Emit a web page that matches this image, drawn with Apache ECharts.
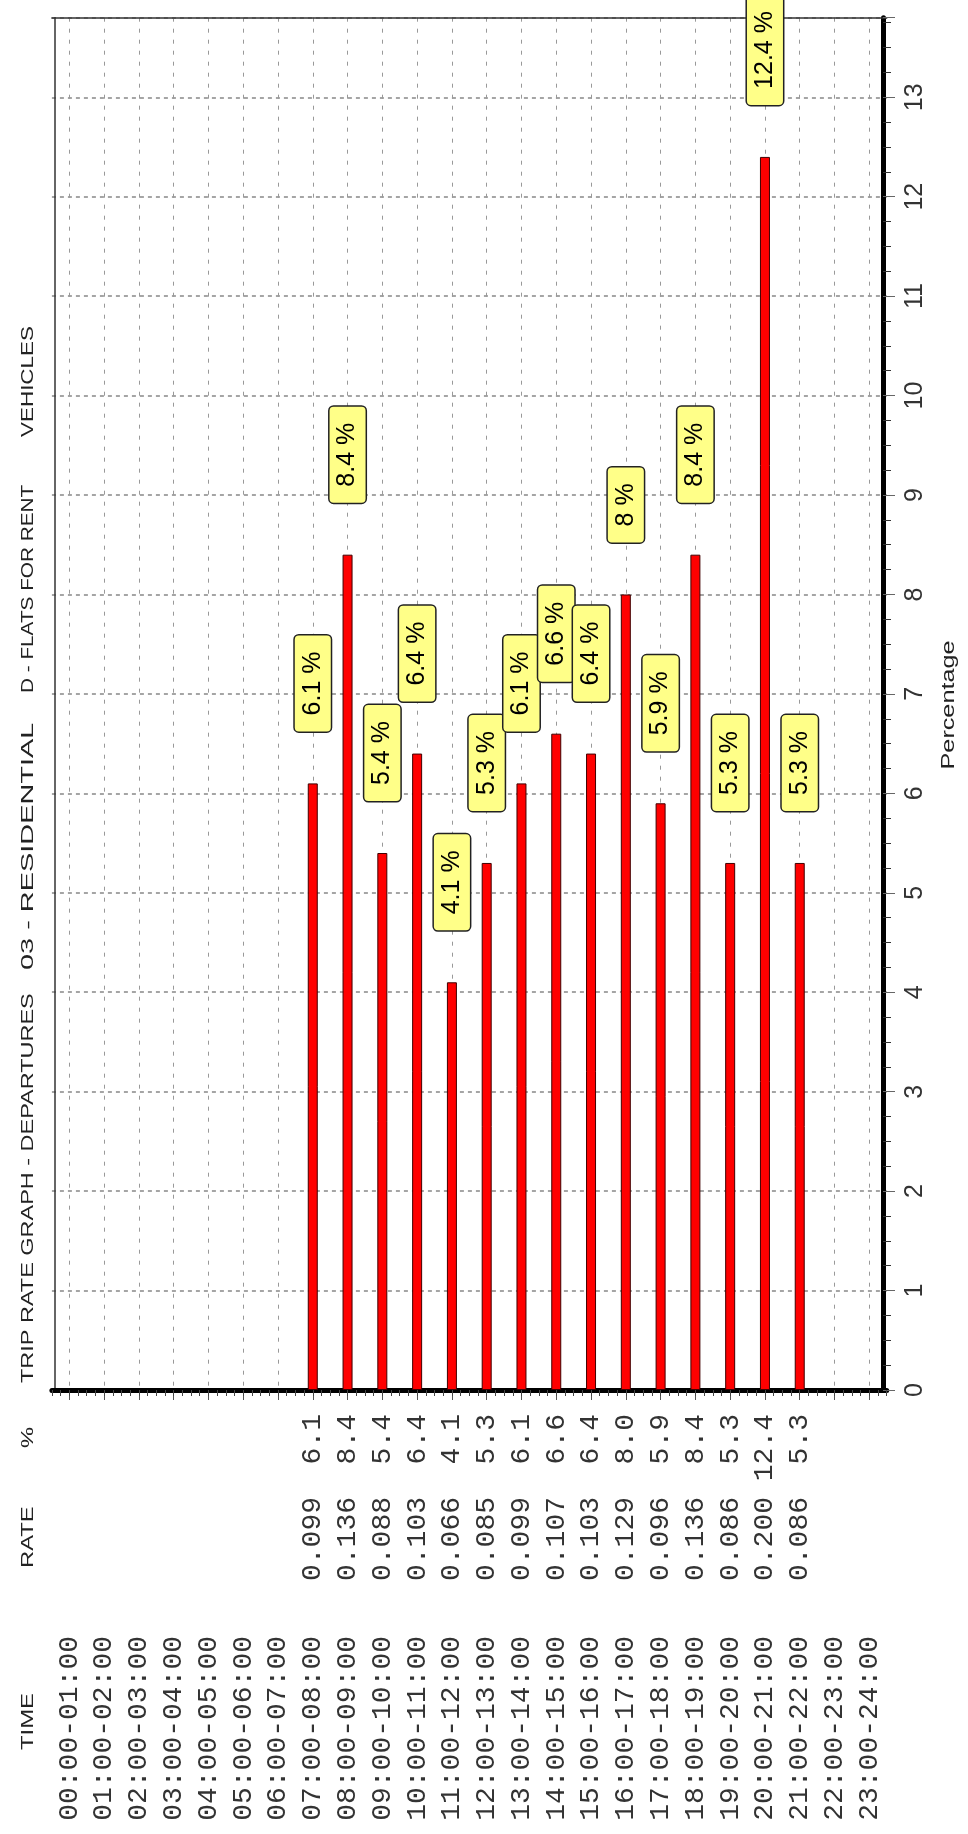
<!DOCTYPE html>
<html>
<head>
<meta charset="utf-8">
<title>Trip rate graph - departures</title>
<script src="https://cdn.jsdelivr.net/npm/echarts@6/dist/echarts.min.js"></script>
<style>
  html, body { margin: 0; padding: 0; background: #fff; }
  #chart { width: 968px; height: 1834px; }
</style>
</head>
<body>
<div id="chart"></div>
<script>
const timeSlots = [
  '00:00-01:00', '01:00-02:00', '02:00-03:00', '03:00-04:00', '04:00-05:00', '05:00-06:00',
  '06:00-07:00', '07:00-08:00', '08:00-09:00', '09:00-10:00', '10:00-11:00', '11:00-12:00',
  '12:00-13:00', '13:00-14:00', '14:00-15:00', '15:00-16:00', '16:00-17:00', '17:00-18:00',
  '18:00-19:00', '19:00-20:00', '20:00-21:00', '21:00-22:00', '22:00-23:00', '23:00-24:00'
];
const rates = [
  null, null, null, null, null, null, null,
  0.099, 0.136, 0.088, 0.103, 0.066, 0.085, 0.099, 0.107,
  0.103, 0.129, 0.096, 0.136, 0.086, 0.200, 0.086,
  null, null
];
const percentages = [
  null, null, null, null, null, null, null,
  6.1, 8.4, 5.4, 6.4, 4.1, 5.3, 6.1, 6.6,
  6.4, 8.0, 5.9, 8.4, 5.3, 12.4, 5.3,
  null, null
];
const titleParts = ['TRIP RATE GRAPH - DEPARTURES', '03 - RESIDENTIAL', 'D - FLATS FOR RENT', 'VEHICLES'];
const columnHeads = ['TIME', 'RATE', '%'];
const valueAxisName = 'Percentage';

const mono = '"Liberation Mono", "DejaVu Sans Mono", monospace';
const sans = '"Liberation Sans", Arial, sans-serif';

const chart = echarts.init(document.getElementById('chart'));

// 4 sub-divisions per hour for the small ticks under the time axis
const quarterSlots = timeSlots.flatMap(t => [t + 'a', t + 'b', t + 'c', t + 'd']);

const columnLabel = (margin, fmt) => ({
  interval: 0,
  rotate: 90,
  margin: margin,
  fontFamily: mono,
  fontSize: 28,
  color: '#333',
  formatter: fmt
});

// rotated header texts: start position along the page and stretch along the text
const titleStarts = [1383, 970, 693, 437];
const titleStretch = [1.38, 1.7, 1.22, 1.32];
const headStarts = [1750, 1568, 1448];
const headText = (text, y, stretch) => ({
  type: 'text',
  x: 28.5,
  y: y,
  rotation: Math.PI / 2,
  scaleX: stretch,
  style: { text: text, fontFamily: sans, fontSize: 17, fill: '#222', align: 'left', verticalAlign: 'middle' }
});

chart.setOption({
  animation: false,
  backgroundColor: '#fff',
  grid: { left: 51.9, right: 81.3, top: 17.7, bottom: 444, containLabel: false, outerBoundsMode: 'none' },
  xAxis: [
    {
      type: 'category', data: timeSlots, position: 'bottom',
      axisLine: { show: true, onZero: false, lineStyle: { color: '#000', width: 5 } },
      axisTick: { show: true, alignWithLabel: true, interval: 0, length: 10, lineStyle: { color: '#555' } },
      axisLabel: columnLabel(24, (v, i) => percentages[i] == null ? '' : percentages[i].toFixed(1)),
      splitLine: { show: true, alignWithLabel: true, interval: 0, lineStyle: { color: '#999', type: [4, 7], width: 1 } }
    },
    {
      type: 'category', data: timeSlots, position: 'bottom',
      axisLine: { show: false, onZero: false }, axisTick: { show: false }, splitLine: { show: false },
      axisLabel: columnLabel(107, (v, i) => rates[i] == null ? '' : rates[i].toFixed(3))
    },
    {
      type: 'category', data: timeSlots, position: 'bottom',
      axisLine: { show: false, onZero: false }, axisTick: { show: false }, splitLine: { show: false },
      axisLabel: columnLabel(246, v => v)
    },
    {
      type: 'category', data: quarterSlots, position: 'bottom',
      axisLine: { show: false, onZero: false }, splitLine: { show: false },
      axisTick: { show: true, interval: 0, length: 6, lineStyle: { color: '#444' } },
      axisLabel: { show: false }
    },
    {
      type: 'category', data: timeSlots, position: 'top',
      axisLine: { show: true, onZero: false, lineStyle: { color: '#333', width: 1.5 } },
      axisTick: { show: false }, axisLabel: { show: false }, splitLine: { show: false }
    }
  ],
  yAxis: [
    {
      type: 'value', position: 'right', offset: -3.7,
      min: 0, max: 13.8, interval: 1,
      axisLine: { show: true, onZero: false, lineStyle: { color: '#000', width: 5 } },
      axisTick: { show: true, length: 12, lineStyle: { color: '#666' } },
      minorTick: { show: true, splitNumber: 4, length: 8, lineStyle: { color: '#333' } },
      axisLabel: { rotate: 90, margin: 20, fontFamily: sans, fontSize: 25, color: '#333', showMaxLabel: false },
      splitLine: { show: true, lineStyle: { color: '#888', type: [4, 4], width: 1.5 } }
    },
    {
      type: 'value', position: 'left', offset: -2.8,
      axisLine: { show: true, onZero: false, lineStyle: { color: '#333', width: 1.5 } },
      axisTick: { show: false }, axisLabel: { show: false }, splitLine: { show: false }
    }
  ],
  series: [
    {
      type: 'bar',
      xAxisIndex: 0,
      yAxisIndex: 0,
      data: percentages,
      barWidth: 10,
      itemStyle: { color: '#ff0000', borderColor: '#400000', borderWidth: 1 },
      label: {
        show: true,
        position: 'top',
        distance: 52,
        rotate: 90,
        align: 'left',
        verticalAlign: 'middle',
        formatter: p => p.value + ' %',
        fontFamily: sans,
        fontSize: 25,
        lineHeight: 28,
        color: '#000',
        backgroundColor: '#ffff88',
        borderColor: '#222',
        borderWidth: 1.5,
        borderRadius: 4,
        padding: [4, 16]
      }
    }
  ],
  graphic: [
    ...titleParts.map((t, i) => headText(t, titleStarts[i], titleStretch[i])),
    ...columnHeads.map((t, i) => headText(t, headStarts[i], 1.4)),
    {
      type: 'text',
      x: 949,
      y: 705,
      rotation: Math.PI / 2,
      scaleX: 1.4,
      style: { text: valueAxisName, fontFamily: sans, fontSize: 18, fill: '#222', align: 'center', verticalAlign: 'middle' }
    }
  ]
});
</script>
</body>
</html>
